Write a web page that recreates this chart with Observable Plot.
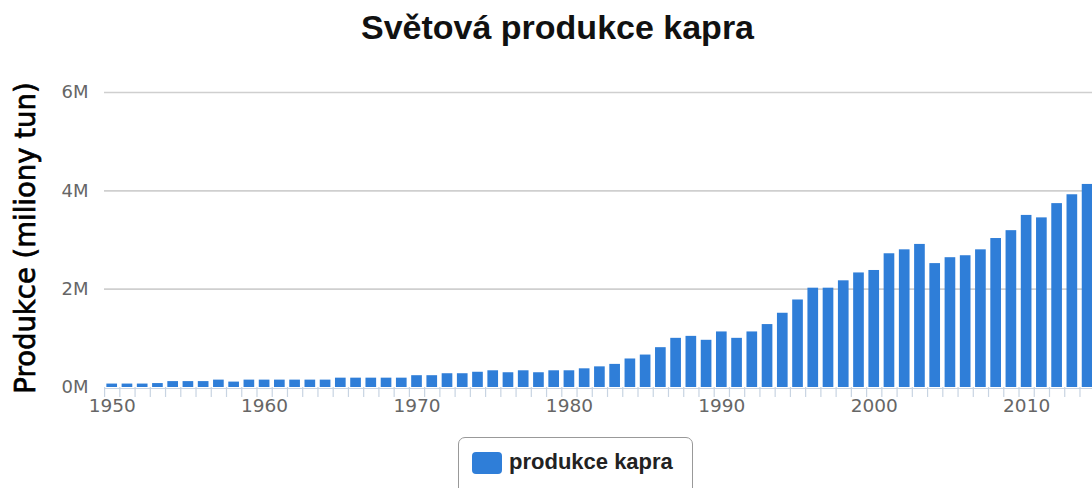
<!DOCTYPE html>
<html>
<head>
<meta charset="utf-8">
<script src="https://cdn.jsdelivr.net/npm/d3@7"></script>
<script src="https://cdn.jsdelivr.net/npm/@observablehq/plot@0.6"></script>
<style>
  html, body { margin: 0; padding: 0; background: #fff; overflow: hidden; }
  #wrap { position: relative; width: 1092px; height: 488px; overflow: hidden; }
  #title { position: absolute; left: 0; top: 8px; width: 1115px; text-align: center;
    font: bold 34px "Liberation Sans", Arial, sans-serif; color: #111; }
  #ylabel { position: absolute; left: 25px; top: 238px; transform: translate(-50%, -50%) rotate(-90deg);
    white-space: nowrap; font: 27.5px "DejaVu Sans", sans-serif; color: #000; -webkit-text-stroke: 0.7px #000; }
  #chart { position: absolute; left: 0; top: 0; }
  #legend { position: absolute; left: 458px; top: 437px; width: 235px; height: 70px;
    border: 1px solid #999; border-radius: 7px; box-sizing: border-box; }
  #legend .sw { position: absolute; left: 13px; top: 14px; width: 30px; height: 22px;
    background: #2f7ed8; border-radius: 4px; }
  #legend .tx { position: absolute; left: 50px; top: 11px; font: bold 22px "Liberation Sans", Arial, sans-serif; color: #222; white-space: nowrap; }
</style>
</head>
<body>
<div id="wrap">
  <div id="chart"></div>
  <div id="title">Světová produkce kapra</div>
  <div id="ylabel">Produkce (miliony tun)</div>
  <div id="legend"><div class="sw"></div><div class="tx">produkce kapra</div></div>
</div>
<script>
// Data: world carp production (million tonnes)
const years = d3.range(1950, 2015);
const production = [
  0.07, 0.07, 0.07, 0.08, 0.12, 0.12, 0.12, 0.15, 0.11, 0.15,
  0.15, 0.15, 0.15, 0.15, 0.15, 0.19, 0.19, 0.19, 0.19, 0.19,
  0.24, 0.24, 0.28, 0.28, 0.31, 0.34, 0.30, 0.34, 0.30, 0.34,
  0.34, 0.38, 0.42, 0.47, 0.58, 0.66, 0.81, 1.00, 1.04, 0.96,
  1.13, 1.00, 1.13, 1.28, 1.51, 1.78, 2.02, 2.02, 2.17, 2.33,
  2.38, 2.72, 2.80, 2.91, 2.52, 2.64, 2.68, 2.80, 3.03, 3.19,
  3.50, 3.45, 3.74, 3.92, 4.13
];
const yTicks = [0, 2, 4, 6];
const xLabelTicks = [1950, 1960, 1970, 1980, 1990, 2000, 2010];
const seriesName = "produkce kapra";

const data = years.map((y, i) => ({year: y, value: production[i]}));

const pad = 0.3;
const r0 = 101.8, r1 = 1097;
const step = (r1 - r0) / (years.length + pad);

const chart = Plot.plot({
  width: 1092,
  height: 430,
  marginLeft: 104,
  marginRight: 0,
  marginTop: 92,
  marginBottom: 43,
  style: {background: "transparent", fontFamily: "DejaVu Sans, sans-serif", overflow: "hidden"},
  x: {type: "band", domain: years, range: [r0, r1], padding: pad, round: false, axis: null},
  y: {domain: [0, 6], axis: null},
  marks: [
    Plot.ruleY([2, 4, 6], {stroke: "#cfcfcf", strokeWidth: 1.6}),
    Plot.axisX({ticks: years, tickSize: 10, tickFormat: () => "", label: null, dx: -step / 2, stroke: "#C8D4E2", strokeWidth: 1.2}),
    Plot.axisX({ticks: xLabelTicks, tickSize: 0, tickPadding: 11, fontSize: 18.5, fill: "#666", label: null, tickFormat: d => String(d)}),
    Plot.axisY({ticks: yTicks, tickSize: 0, tickPadding: 16, fontSize: 18, fill: "#666", label: null, tickFormat: d => d + "M"}),
    Plot.barY(data, {x: "year", y: "value", fill: "#2f7ed8"}),
    Plot.ruleY([0], {stroke: "#C8D4E2", strokeWidth: 1.2, dy: 1})
  ]
});
document.getElementById("chart").appendChild(chart);
</script>
</body>
</html>
